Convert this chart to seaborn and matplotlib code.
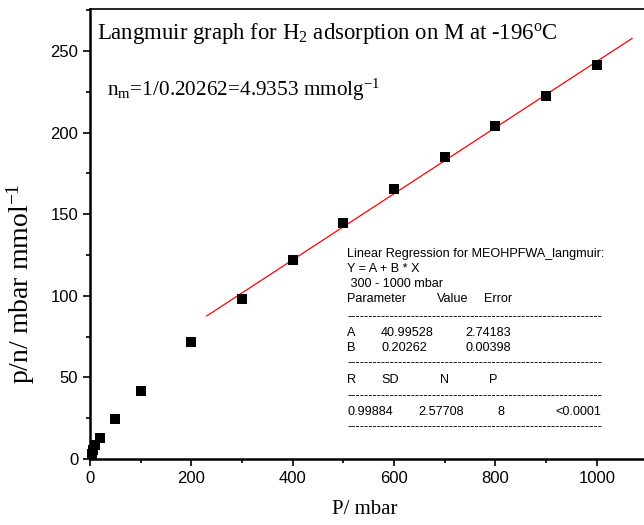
import numpy as np
import pandas as pd
import seaborn as sns
import matplotlib.pyplot as plt
from matplotlib.ticker import MultipleLocator

# datos
pressure = [3, 6, 10, 20, 50, 100, 200, 300, 400, 500, 600, 700, 800, 900, 1000]
p_over_n = [3.0, 5.5, 8.3, 13.0, 24.5, 41.5, 71.7, 98.0, 122.0, 144.4, 165.4, 185.0, 204.0, 222.3, 241.4]

# regresion lineal 300 - 1000 mbar
A = 40.99528
B = 0.20262
fit_range = [230, 1070]

df = pd.DataFrame({'P': pressure, 'pn': p_over_n})
fit = pd.DataFrame({'P': fit_range, 'pn': [A + B * x for x in fit_range]})

sns.set_style("ticks")
plt.rcParams['font.family'] = ['Liberation Sans', 'DejaVu Sans']
plt.rcParams['mathtext.fontset'] = 'custom'
plt.rcParams['mathtext.rm'] = 'Liberation Serif'
plt.rcParams['mathtext.it'] = 'Liberation Serif'
plt.rcParams['text.color'] = 'black'
plt.rcParams['axes.labelcolor'] = 'black'
plt.rcParams['axes.edgecolor'] = 'black'

fig = plt.figure(figsize=(6.44, 5.25), dpi=100)
ax = fig.add_axes([90 / 644, 66 / 525, 560 / 644, 449.6 / 525])

sns.lineplot(data=fit, x='P', y='pn', color='red', linewidth=0.9, ax=ax)
sns.scatterplot(data=df, x='P', y='pn', marker='s', s=52, color='black',
                edgecolor='black', linewidth=0, ax=ax, zorder=3, clip_on=False)

ax.set_xlim(0, 1105)
ax.set_ylim(0, 275.5)
ax.xaxis.set_major_locator(MultipleLocator(200))
ax.xaxis.set_minor_locator(MultipleLocator(100))
ax.yaxis.set_major_locator(MultipleLocator(50))
ax.yaxis.set_minor_locator(MultipleLocator(25))
ax.tick_params(which='major', direction='out', length=5, width=1.2, labelsize=12, colors='black')
ax.tick_params(which='minor', direction='out', length=3, width=1.2, colors='black')
for side in ['left', 'bottom']:
    ax.spines[side].set_linewidth(1.8)
for side in ['top', 'right']:
    ax.spines[side].set_linewidth(1.2)
    ax.spines[side].set_visible(True)

serif = ['Liberation Serif', 'DejaVu Serif']
ax.set_xlabel('P/ mbar', family=serif, fontsize=15)
ax.set_ylabel(r'p/n/ mbar mmol$^{\mathregular{-1}}$', family=serif, fontsize=20)
ax.xaxis.set_label_coords(0.49, -0.092)
ax.yaxis.set_label_coords(-0.095, 0.39)

ax.text(0.012, 0.947, r'Langmuir graph for H$_\mathregular{2}$ adsorption on M at -196$^\mathregular{o}$C',
        transform=ax.transAxes, family=serif, fontsize=16.4, va='center', ha='left')
ax.text(0.03, 0.82, r'n$_\mathregular{m}$=1/0.20262=4.9353 mmolg$^\mathregular{-1}$',
        transform=ax.transAxes, family=serif, fontsize=15.3, va='center', ha='left')

# cuadro de la regresion
dash = '-' * 60
fs = 9.1
x0 = (347 - 90) / 0.5065
def yp(py):
    return (459 - py) / 1.632
def xp(px):
    return (px - 90) / 0.5065

ax.text(x0, yp(254), 'Linear Regression for MEOHPFWA_langmuir:', fontsize=fs, va='center')
ax.text(x0, yp(269), 'Y = A + B * X', fontsize=fs, va='center')
ax.text(x0, yp(284), ' 300 - 1000 mbar', fontsize=fs, va='center')
ax.text(x0, yp(299), 'Parameter', fontsize=fs, va='center')
ax.text(xp(437), yp(299), 'Value', fontsize=fs, va='center')
ax.text(xp(484), yp(299), 'Error', fontsize=fs, va='center')
ax.text(x0, yp(317), dash, fontsize=fs, va='center')
ax.text(x0, yp(333), 'A', fontsize=fs, va='center')
ax.text(xp(381), yp(333), '40.99528', fontsize=fs, va='center')
ax.text(xp(465), yp(333), '2.74183', fontsize=fs, va='center')
ax.text(x0, yp(348), 'B', fontsize=fs, va='center')
ax.text(xp(381), yp(348), '0.20262', fontsize=fs, va='center')
ax.text(xp(465), yp(348), '0.00398', fontsize=fs, va='center')
ax.text(x0, yp(363), dash, fontsize=fs, va='center')
ax.text(x0, yp(380), 'R', fontsize=fs, va='center')
ax.text(xp(381), yp(380), 'SD', fontsize=fs, va='center')
ax.text(xp(440), yp(380), 'N', fontsize=fs, va='center')
ax.text(xp(489), yp(380), 'P', fontsize=fs, va='center')
ax.text(x0, yp(396), dash, fontsize=fs, va='center')
ax.text(x0, yp(412), '0.99884', fontsize=fs, va='center')
ax.text(xp(418), yp(412), '2.57708', fontsize=fs, va='center')
ax.text(xp(497), yp(412), '8', fontsize=fs, va='center')
ax.text(xp(555), yp(412), '<0.0001', fontsize=fs, va='center')
ax.text(x0, yp(427), dash, fontsize=fs, va='center')

plt.savefig('out.png', dpi=100)
